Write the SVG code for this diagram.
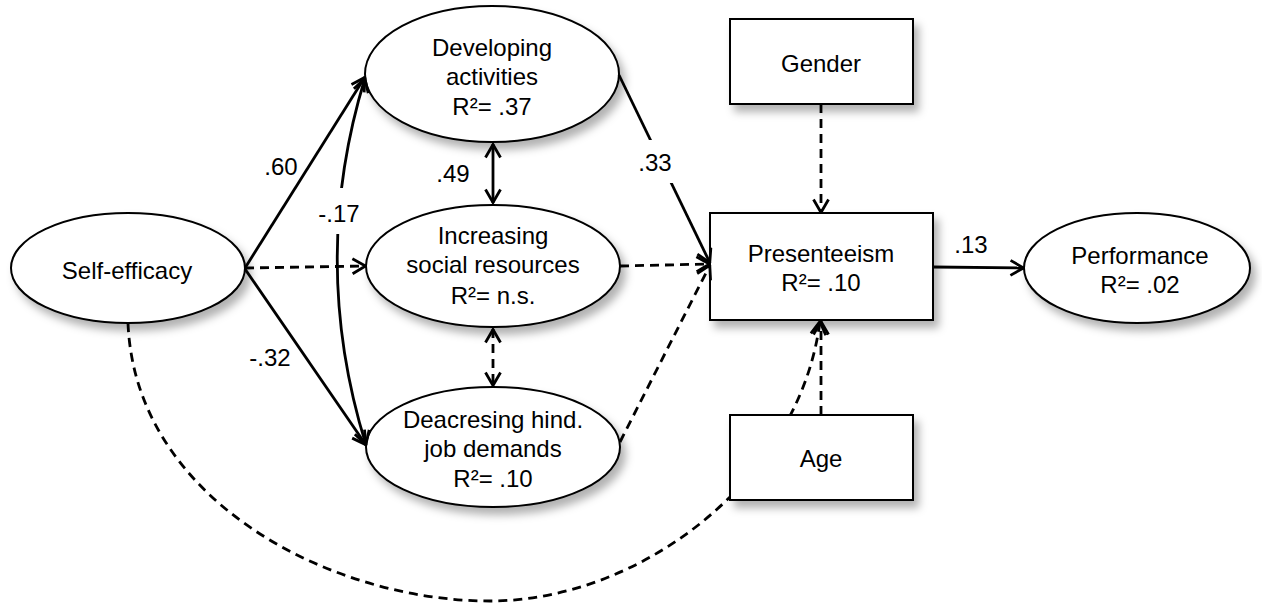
<svg xmlns="http://www.w3.org/2000/svg" width="1262" height="605" viewBox="0 0 1262 605">
<style>
  text { font-family: "Liberation Sans", Arial, sans-serif; font-size: 24px; fill: #000; text-anchor: middle; }
  .node { fill: #fff; stroke: #000; stroke-width: 2; filter: url(#shadow); }
  .c { fill: none; stroke: #000; stroke-width: 2.8; }
  .d { stroke-dasharray: 9 6; }
  .ah { marker-end: url(#arr); }
  .ahb { marker-start: url(#arr); marker-end: url(#arr); }
</style>
<defs>
  <filter id="shadow" x="-20%" y="-20%" width="150%" height="160%">
    <feDropShadow dx="5" dy="7" stdDeviation="4" flood-color="#000" flood-opacity="0.3"/>
  </filter>
  <marker id="arr" viewBox="0 0 16 18" refX="15" refY="9" markerWidth="16" markerHeight="18" markerUnits="userSpaceOnUse" orient="auto-start-reverse">
    <path d="M1.5,1.5 L14.5,9 L1.5,16.5" fill="none" stroke="#000" stroke-width="2.8" stroke-dasharray="none" stroke-linejoin="miter"/>
  </marker>
  <mask id="ageMask" maskUnits="userSpaceOnUse" x="0" y="0" width="1262" height="605">
    <rect x="0" y="0" width="1262" height="605" fill="#fff"/>
    <rect x="730" y="415" width="183" height="85" fill="#000"/>
  </mask>
</defs>
<rect width="1262" height="605" fill="#fff"/>

<g id="nodes">
  <g id="self-efficacy">
    <ellipse class="node" cx="128" cy="268" rx="117" ry="55"/>
    <text x="127" y="279">Self-efficacy</text>
  </g>
  <g id="developing">
    <ellipse class="node" cx="492" cy="74" rx="127" ry="68"/>
    <text x="492" y="56">Developing</text>
    <text x="492" y="85">activities</text>
    <text x="492" y="115">R²= .37</text>
  </g>
  <g id="increasing">
    <ellipse class="node" cx="493" cy="266" rx="127" ry="61"/>
    <text x="493" y="244">Increasing</text>
    <text x="493" y="273">social resources</text>
    <text x="493" y="304">R²= n.s.</text>
  </g>
  <g id="decreasing">
    <ellipse class="node" cx="493" cy="447" rx="127" ry="60"/>
    <text x="493" y="428">Deacresing hind.</text>
    <text x="493" y="457">job demands</text>
    <text x="493" y="487">R²= .10</text>
  </g>
  <g id="gender">
    <rect class="node" x="730" y="19" width="183" height="85"/>
    <text x="821" y="72">Gender</text>
  </g>
  <g id="presenteeism">
    <rect class="node" x="710" y="213" width="223" height="107"/>
    <text x="821" y="262">Presenteeism</text>
    <text x="821" y="291">R²= .10</text>
  </g>
  <g id="age">
    <rect class="node" x="730" y="415" width="183" height="85"/>
    <text x="821" y="467">Age</text>
  </g>
  <g id="performance">
    <ellipse class="node" cx="1137" cy="268" rx="113" ry="55"/>
    <text x="1140" y="264">Performance</text>
    <text x="1140" y="293">R²= .02</text>
  </g>
</g>

<g id="connectors">
  <path class="c ah" d="M245,268 L365,77"/>
  <path class="c d ah" d="M245,268 L366,266"/>
  <path class="c ah" d="M245,269 L366,445"/>
  <path class="c ahb" d="M365,78 Q309,261 366,445"/>
  <path class="c ahb" d="M493,144 L493,203"/>
  <path class="c d ahb" d="M493,329 L493,386"/>
  <path class="c ah" d="M619,75 L710,263"/>
  <path class="c d ah" d="M620,266 L710,264"/>
  <path class="c d ah" d="M620,442 L710,265"/>
  <path class="c d ah" d="M821,104 L821,213"/>
  <path class="c d ah" d="M821,415 L821,321"/>
  <path class="c d ah" mask="url(#ageMask)" d="M128,323 C135,500 330,601 490,601 C640,601 800,480 820,321"/>
  <path class="c ah" d="M933,267 L1024,268"/>
</g>

<g id="labels">
  <text x="281" y="175">.60</text>
  <rect x="318" y="188" width="42" height="46" fill="#fff"/>
  <text x="339" y="222">-.17</text>
  <text x="270" y="366">-.32</text>
  <text x="453" y="182">.49</text>
  <rect x="636" y="140" width="38" height="43" fill="#fff"/>
  <text x="655" y="171">.33</text>
  <text x="971" y="253">.13</text>
</g>
</svg>
